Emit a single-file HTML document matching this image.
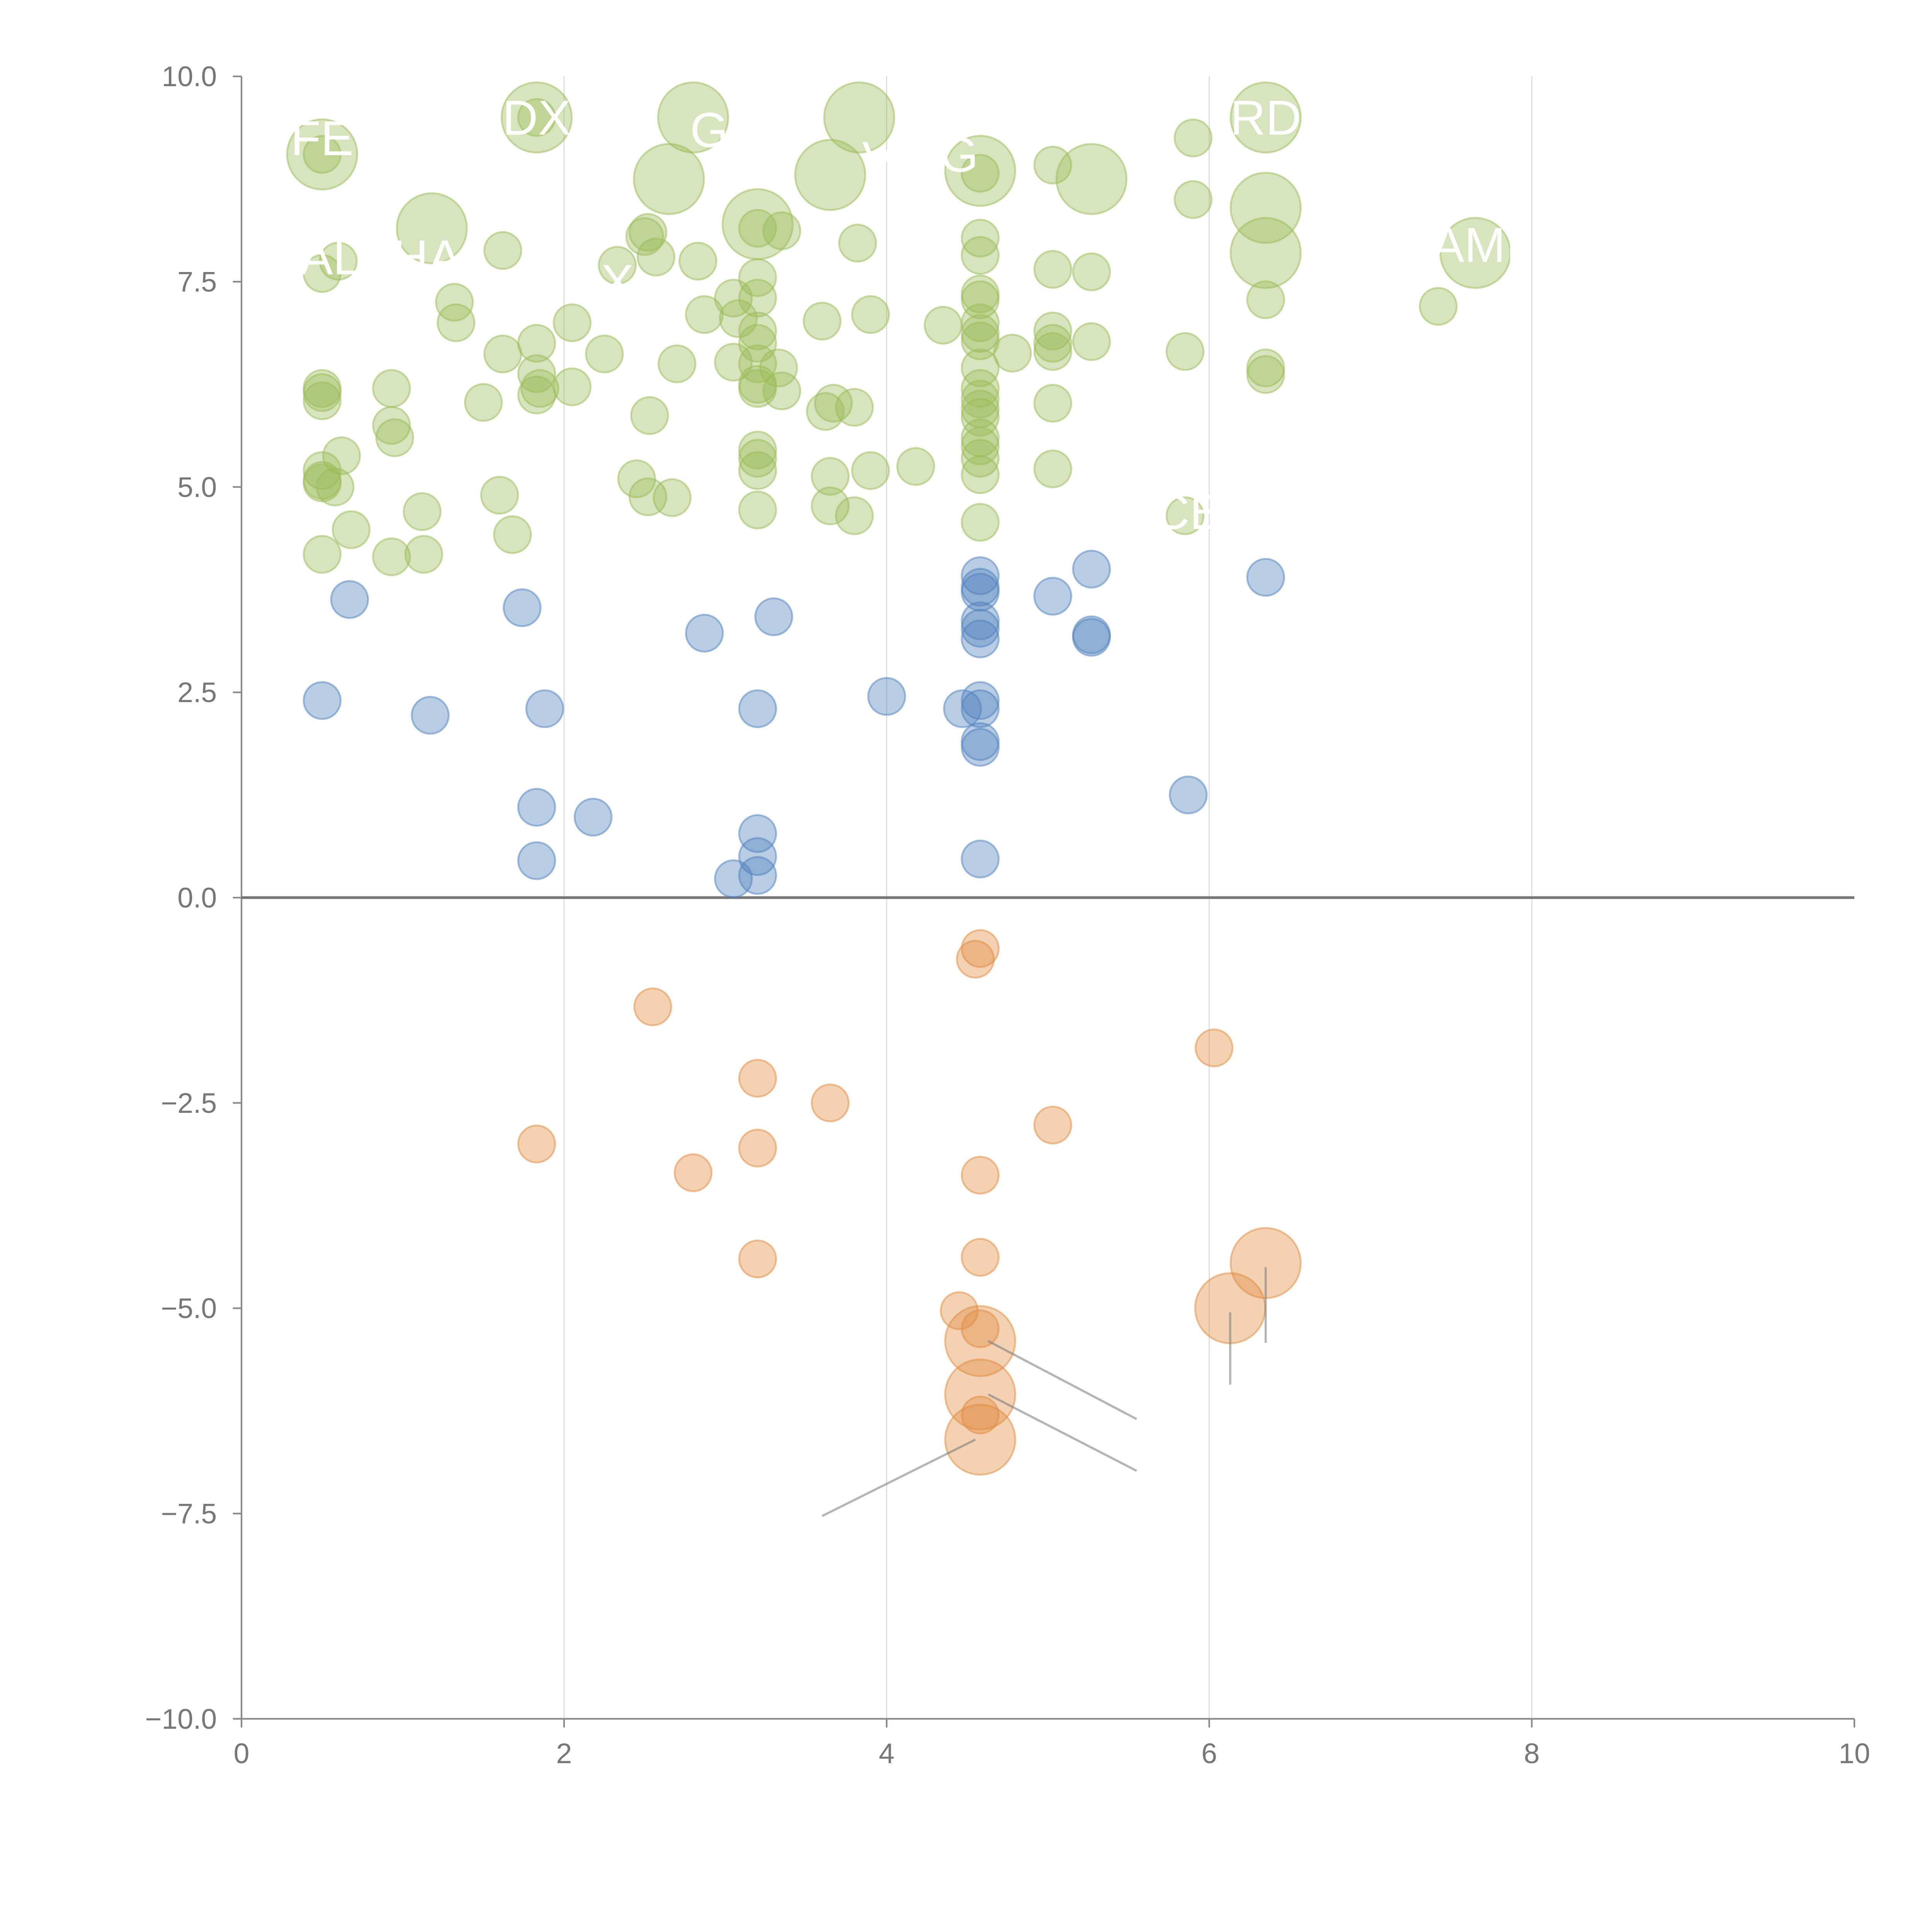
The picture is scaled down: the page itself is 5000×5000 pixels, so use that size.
<!DOCTYPE html>
<html><head><meta charset="utf-8"><style>
html,body{margin:0;padding:0;background:#fff;}
svg{display:block;}
</style></head><body>
<svg id="chart" width="5000" height="5000" viewBox="0 0 1568 1568" xmlns="http://www.w3.org/2000/svg" font-family="Liberation Sans, sans-serif">
<g id="grid"></g>
<g id="axes"></g>
<g id="marks"></g>
<g id="ann"></g>
</svg>
<script>
const xTicks=[0,2,4,6,8,10];
const yTicks=[-10,-7.5,-5,-2.5,0,2.5,5,7.5,10];
const yTickLabels=["\u221210.0","\u22127.5","\u22125.0","\u22122.5","0.0","2.5","5.0","7.5","10.0"];
const greenX=[0.5,1.83,2.8,2.65,3.83,3.65,4.58,5.27,1.18,3.2,6.35,6.35,6.35,7.65,0.5,1.83,
0.5,0.6,1.62,1.32,1.33,0.5,0.5,0.5,0.93,0.93,0.95,0.5,0.5,0.5,0.58,0.62,0.68,0.5,0.93,1.12,1.13,1.5,1.62,1.6,1.68,1.83,1.83,1.83,1.85,2.05,2.05,2.25,2.33,2.5,2.52,2.57,2.83,2.87,2.7,2.53,2.45,2.52,2.67,3.05,3.08,3.2,3.2,3.2,3.2,3.2,3.2,3.2,3.2,3.2,3.2,3.2,3.05,3.33,3.35,3.35,3.2,3.6,3.62,3.67,3.65,3.65,3.8,3.8,3.82,3.9,3.9,4.18,4.35,4.58,4.58,4.58,4.58,4.58,4.58,4.58,4.58,4.58,4.58,4.58,4.58,4.58,4.58,4.58,4.58,4.58,4.58,4.78,5.03,5.03,5.03,5.03,5.03,5.03,5.03,5.27,5.27,5.85,5.85,5.9,5.9,6.35,6.35,6.35,7.42];
const greenY=[9.05,9.5,9.5,8.75,9.5,8.8,8.85,8.75,8.15,8.2,9.5,8.4,7.85,7.85,9.05,9.5,
7.6,7.75,7.88,7.25,7.0,6.2,6.15,6.05,6.2,5.75,5.6,5.2,5.08,5.05,5.0,5.38,4.48,4.18,4.15,4.7,4.18,6.03,6.62,4.9,4.42,6.75,6.38,6.12,6.2,7.0,6.22,6.62,7.7,8.05,8.1,7.8,7.75,7.1,6.5,5.87,5.1,4.88,4.87,7.3,7.05,7.55,7.3,6.9,6.75,6.5,6.25,6.2,5.45,5.35,5.2,4.72,6.52,6.45,6.17,8.12,8.15,7.02,5.92,6.02,5.13,4.77,5.97,4.65,7.97,7.1,5.2,5.25,6.97,8.82,8.03,7.82,7.35,7.28,7.0,6.87,6.78,6.45,6.2,6.07,5.95,5.85,5.6,5.5,5.35,5.15,4.57,6.63,8.92,7.65,6.9,6.75,6.65,6.02,5.22,7.62,6.77,6.65,4.65,9.25,8.5,7.28,6.45,6.37,7.2];
const greenS=[3.6,3.6,3.6,3.6,3.6,3.6,3.6,3.6,3.6,3.6,3.6,3.6,3.6,3.6];
const blueX=[0.5,0.67,1.17,1.74,1.83,1.83,1.88,2.18,2.87,3.05,3.2,3.2,3.2,3.2,3.3,4.0,4.47,4.58,4.58,4.58,4.58,4.58,4.58,4.58,4.58,4.58,4.58,4.58,5.03,5.27,5.27,5.27,5.87,6.35];
const blueY=[2.4,3.63,2.22,3.53,1.1,0.45,2.3,0.98,3.22,0.23,2.3,0.78,0.5,0.27,3.42,2.45,2.3,3.92,3.78,3.72,3.37,3.28,3.15,2.4,2.3,1.9,1.83,0.47,3.67,4.0,3.2,3.17,1.25,3.9];
const orangeX=[4.58,4.58,4.58,6.13,6.35,2.55,1.83,2.8,3.2,3.2,3.2,3.65,4.55,4.58,4.58,4.58,4.45,4.58,4.58,5.03,6.03];
const orangeY=[-5.4,-6.05,-6.6,-5.0,-4.45,-1.33,-3.0,-3.35,-2.2,-3.05,-4.4,-2.5,-0.75,-0.62,-3.38,-4.38,-5.03,-5.25,-6.3,-2.77,-1.83];
const orangeS=[3.6,3.6,3.6,3.6,3.6];
const labels=["FE","DX","G","V","G","RD","AL","HA","X","AMI","P","CE"];
const labelX=[0.5,1.83,2.9,3.95,4.45,6.35,0.55,1.15,2.33,7.65,5.5,5.87];
const labelY=[9.25,9.5,9.35,9.0,9.05,9.5,7.8,7.8,7.5,7.95,7.35,4.7];

const NS="http://www.w3.org/2000/svg";
const X0=196,X1=1505,Y0=1395,Y1=62;
const sx=v=>X0+(v/10)*(X1-X0);
const sy=v=>Y0-((v+10)/20)*(Y0-Y1);
function mk(tag,attrs,parent){const e=document.createElementNS(NS,tag);for(const k in attrs)e.setAttribute(k,attrs[k]);parent.appendChild(e);return e;}
const grid=document.getElementById('grid'),axes=document.getElementById('axes'),marks=document.getElementById('marks'),ann=document.getElementById('ann');
xTicks.slice(1,5).forEach(t=>{const l=mk('line',{x1:sx(t),x2:sx(t),y1:Y1,y2:Y0,stroke:'#d8d8d8','stroke-width':0.8},grid);

});
let a=mk('line',{x1:X0,x2:X0,y1:Y1,y2:Y0,stroke:'#888','stroke-width':1.3},axes);


a=mk('line',{x1:X0,x2:X1,y1:Y0,y2:Y0,stroke:'#888','stroke-width':1.3},axes);


xTicks.forEach(t=>{mk('line',{x1:sx(t),x2:sx(t),y1:Y0,y2:Y0+7,stroke:'#888','stroke-width':1.3},axes);
const tx=mk('text',{x:sx(t),y:Y0+36,'text-anchor':'middle','font-size':23,fill:'#777'},axes);tx.textContent=t;

});
yTicks.forEach((t,i)=>{mk('line',{x1:X0-7,x2:X0,y1:sy(t),y2:sy(t),stroke:'#888','stroke-width':1.3},axes);
const tx=mk('text',{x:X0-20,y:sy(t)+8,'text-anchor':'end','font-size':23,fill:'#777'},axes);tx.textContent=yTickLabels[i];

});
a=mk('line',{x1:X0,x2:X1,y1:sy(0),y2:sy(0),stroke:'#777','stroke-width':2.2},axes);


function series(xs,ys,ss,fill,stroke,name){xs.forEach((x,i)=>{const s=ss[i]||1;
const c=mk('circle',{cx:sx(x),cy:sy(ys[i]),r:15*Math.sqrt(s),fill:fill,stroke:stroke,'stroke-width':1.5},marks);

});}
series(greenX,greenY,greenS,'rgba(155,187,89,0.4)','rgba(155,187,89,0.5)','green-bubble');
series(blueX,blueY,[],'rgba(79,129,189,0.4)','rgba(79,129,189,0.5)','blue-bubble');
series(orangeX,orangeY,orangeS,'rgba(226,139,64,0.4)','rgba(226,139,64,0.5)','orange-bubble');
const leadX1=[4.63,4.63,4.55,6.13,6.35],leadY1=[-5.4,-6.05,-6.6,-5.05,-4.5],leadX2=[5.55,5.55,3.6,6.13,6.35],leadY2=[-6.35,-6.98,-7.53,-5.93,-5.42];
leadX1.forEach((x,i)=>{const l=mk('line',{x1:sx(x),y1:sy(leadY1[i]),x2:sx(leadX2[i]),y2:sy(leadY2[i]),stroke:'rgba(120,120,120,0.55)','stroke-width':1.8},ann);

});
labels.forEach((t,i)=>{const tx=mk('text',{x:sx(labelX[i]),y:sy(labelY[i])+14,'text-anchor':'middle','font-size':40,fill:'#fff'},ann);tx.textContent=t;

});
</script>
</body></html>
